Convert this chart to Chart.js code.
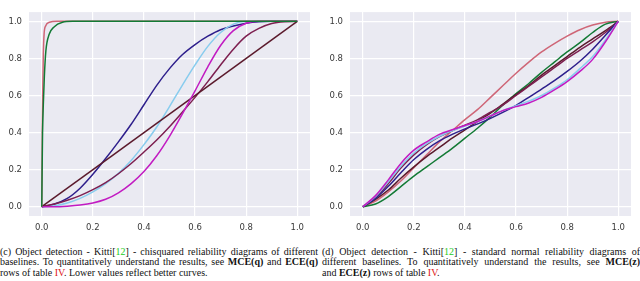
<!DOCTYPE html>
<html>
<head>
<meta charset="utf-8">
<script src="https://cdn.jsdelivr.net/npm/chart.js@4.4.1/dist/chart.umd.min.js"></script>
<style>
  body { margin: 0; background: #ffffff; width: 640px; height: 281px; overflow: hidden; position: relative; }
  canvas { position: absolute; top: 0; }
  .caption { position: absolute; top: 247px; font-family: "Liberation Serif", "Times New Roman", serif; font-size: 10px; color: #111; }
  .caption div { height: 10.4px; line-height: 10.4px; text-align: justify; text-align-last: justify; white-space: nowrap; }
  .caption div.last { text-align-last: left; }
  .g { color: #22cc22; }
  .r { color: #e02020; }
</style>
</head>
<body>
<canvas id="chartC" width="320" height="240" style="left:0px"></canvas>
<canvas id="chartD" width="320" height="240" style="left:320px"></canvas>

<div class="caption" style="left:0px; width:318px">
  <div>(c) Object detection - Kitti[<span class="g">12</span>] - chisquared reliability diagrams of different</div>
  <div>baselines. To quantitatively understand the results, see <b>MCE(q)</b> and <b>ECE(q)</b></div>
  <div class="last">rows of table <span class="r">IV</span>. Lower values reflect better curves.</div>
</div>
<div class="caption" style="left:322px; width:318px">
  <div>(d) Object detection - Kitti[<span class="g">12</span>] - standard normal reliability diagrams of</div>
  <div>different baselines. To quantitatively understand the results, see <b>MCE(z)</b></div>
  <div class="last">and <b>ECE(z)</b> rows of table <span class="r">IV</span>.</div>
</div>

<script>
// 共用 x 座標 (0.00 ~ 1.00, 每 0.05 一點)
const xGrid = [0, 0.05, 0.1, 0.15, 0.2, 0.25, 0.3, 0.35, 0.4, 0.45, 0.5, 0.55, 0.6, 0.65, 0.7, 0.75, 0.8, 0.85, 0.9, 0.95, 1];
const tickValues = [0, 0.2, 0.4, 0.6, 0.8, 1.0];

// 顏色
const colors = {
    rose: "#cf6677",
    green: "#137a35",
    indigo: "#2e1f8c",
    cyan: "#88ccee",
    magenta: "#c21bc2",
    wine: "#7d1f50",
    brown: "#5b1a2c",
};

// (c) chisquared
const roseX_c = [0, 0.001, 0.002, 0.004, 0.006, 0.009, 0.015, 0.03, 0.06, 1];
const roseY_c = [0, 0.2, 0.4, 0.65, 0.82, 0.93, 0.975, 0.995, 1, 1];
const greenX_c = [0, 0.001, 0.003, 0.006, 0.01, 0.016, 0.029, 0.048, 0.081, 0.12, 1];
const greenY_c = [0, 0.15, 0.4, 0.55, 0.7, 0.84, 0.93, 0.97, 0.995, 1, 1];
const indigo_c = [0, 0.015, 0.045, 0.1, 0.175, 0.26, 0.35, 0.445, 0.55, 0.655, 0.745, 0.82, 0.875, 0.92, 0.955, 0.975, 0.99, 0.998, 1, 1, 1];
const cyan_c = [0, 0.005, 0.02, 0.045, 0.08, 0.125, 0.18, 0.25, 0.335, 0.43, 0.54, 0.655, 0.765, 0.865, 0.94, 0.985, 1, 1, 1, 1, 1];
const magenta_c = [0, 0, 0.003, 0.009, 0.02, 0.04, 0.075, 0.125, 0.19, 0.275, 0.38, 0.5, 0.625, 0.755, 0.87, 0.95, 0.99, 1, 1, 1, 1];
const wine_c = [0, 0.015, 0.035, 0.06, 0.092, 0.13, 0.178, 0.233, 0.295, 0.36, 0.432, 0.51, 0.59, 0.675, 0.765, 0.85, 0.92, 0.962, 0.988, 0.998, 1];
const diagX = [0, 1];
const diagY = [0, 1];

// (d) standard normal
const rose_d = [0, 0.03, 0.08, 0.14, 0.21, 0.28, 0.35, 0.41, 0.47, 0.525, 0.59, 0.655, 0.72, 0.78, 0.835, 0.88, 0.92, 0.955, 0.98, 0.995, 1];
const green_d = [0, 0.015, 0.055, 0.11, 0.165, 0.215, 0.265, 0.315, 0.37, 0.425, 0.485, 0.55, 0.61, 0.665, 0.725, 0.78, 0.835, 0.885, 0.94, 0.985, 1];
const indigo_d = [0, 0.045, 0.11, 0.185, 0.255, 0.31, 0.355, 0.39, 0.42, 0.447, 0.477, 0.51, 0.547, 0.59, 0.635, 0.68, 0.73, 0.785, 0.85, 0.925, 1];
const cyan_d = [0, 0.055, 0.135, 0.22, 0.29, 0.34, 0.38, 0.41, 0.435, 0.46, 0.49, 0.52, 0.545, 0.57, 0.6, 0.64, 0.685, 0.745, 0.81, 0.9, 1];
const magenta_d = [0, 0.06, 0.145, 0.235, 0.305, 0.35, 0.39, 0.415, 0.438, 0.46, 0.49, 0.52, 0.54, 0.56, 0.59, 0.63, 0.675, 0.73, 0.795, 0.89, 1];
const wine_d = [0, 0.05, 0.125, 0.21, 0.28, 0.335, 0.378, 0.41, 0.44, 0.47, 0.51, 0.55, 0.6, 0.65, 0.7, 0.75, 0.8, 0.845, 0.89, 0.94, 1];
const brown_d = [0, 0.04, 0.09, 0.155, 0.215, 0.27, 0.32, 0.37, 0.415, 0.46, 0.505, 0.555, 0.605, 0.655, 0.71, 0.76, 0.81, 0.86, 0.905, 0.95, 1];

function pts(xs, ys) {
    return xs.map((x, i) => ({ x: x, y: ys[i] }));
}

function line(xs, ys, color) {
    return {
        data: pts(xs, ys),
        borderColor: color,
        borderWidth: 1.5,
        pointRadius: 0,
        cubicInterpolationMode: "monotone",
        fill: false,
    };
}

function axis(isY, fixedSize) {
    return {
        type: "linear",
        min: -0.05,
        max: 1.05,
        afterBuildTicks: scale => { scale.ticks = tickValues.map(v => ({ value: v })); },
        afterFit: scale => { if (isY) scale.width = fixedSize; else scale.height = fixedSize; },
        grid: { color: "#ffffff", lineWidth: 1.2, drawTicks: false },
        border: { display: false },
        ticks: {
            padding: 7,
            color: "#3a3a3a",
            font: { family: "DejaVu Sans", size: 8.5 },
            callback: v => v.toFixed(1),
        },
    };
}

// 背景色 (seaborn darkgrid)
const bgPlugin = {
    id: "bg",
    beforeDraw(chart) {
        const a = chart.chartArea;
        const ctx = chart.ctx;
        ctx.save();
        ctx.fillStyle = "#eaeaf2";
        ctx.fillRect(a.left, a.top, a.right - a.left, a.bottom - a.top);
        ctx.restore();
    },
};

function makeChart(id, datasets, yWidth, padRight) {
    new Chart(document.getElementById(id).getContext("2d"), {
        type: "line",
        data: { datasets: datasets },
        options: {
            responsive: false,
            animation: false,
            layout: { padding: { left: 0, right: padRight, top: 7, bottom: 0 } },
            plugins: { legend: { display: false }, tooltip: { enabled: false } },
            scales: { x: axis(false, 24), y: axis(true, yWidth) },
        },
        plugins: [bgPlugin],
    });
}

// (c) 左圖
makeChart("chartC", [
    line(greenX_c, greenY_c, colors.green),
    line(roseX_c, roseY_c, colors.rose),
    line(xGrid, magenta_c, colors.magenta),
    line(diagX, diagY, colors.brown),
    line(xGrid, wine_c, colors.wine),
    line(xGrid, cyan_c, colors.cyan),
    line(xGrid, indigo_c, colors.indigo),
], 29, 10);

// (d) 右圖
makeChart("chartD", [
    line(xGrid, magenta_d, colors.magenta),
    line(xGrid, cyan_d, colors.cyan),
    line(xGrid, indigo_d, colors.indigo),
    line(xGrid, wine_d, colors.wine),
    line(xGrid, brown_d, colors.brown),
    line(xGrid, green_d, colors.green),
    line(xGrid, rose_d, colors.rose),
], 30, 9);
</script>
</body>
</html>
